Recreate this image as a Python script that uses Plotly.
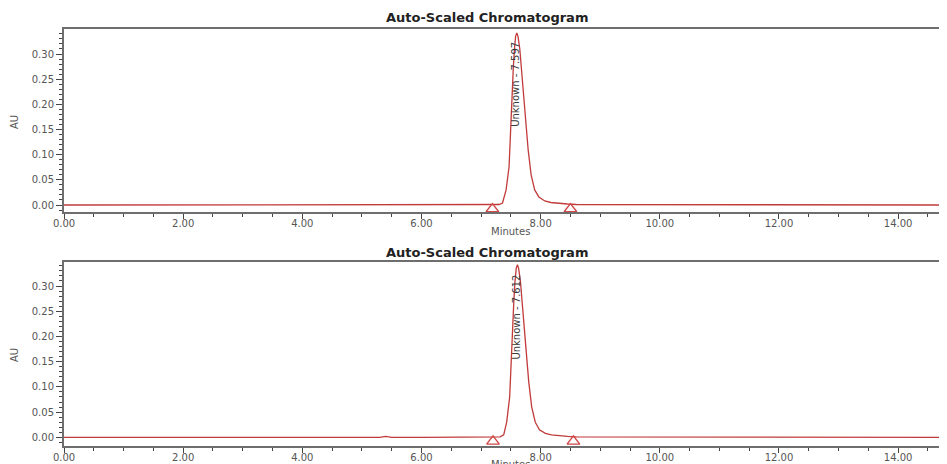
import plotly.graph_objects as go

# ---------------- data ----------------
time_top = [0.0, 1.0, 2.0, 3.0, 4.0, 5.0, 6.0, 7.0, 7.20, 7.30, 7.36, 7.42, 7.47, 7.49, 7.51,
            7.54, 7.56, 7.58, 7.60, 7.62, 7.65, 7.67, 7.70, 7.73, 7.76, 7.79, 7.84, 7.90,
            7.97, 8.07, 8.17, 8.30, 8.45, 8.60, 9.0, 9.3, 10.0, 11.0, 12.0, 13.0, 14.0, 14.9]
au_top = [0.000, 0.000, 0.000, 0.000, 0.000, 0.000, 0.000, 0.000, 0.000, 0.001, 0.004, 0.030,
          0.076, 0.140, 0.200, 0.270, 0.310, 0.335, 0.342, 0.335, 0.310, 0.280, 0.240, 0.200,
          0.150, 0.110, 0.060, 0.030, 0.016, 0.008, 0.005, 0.003, 0.002, 0.001, 0.001, 0.001,
          0.000, 0.000, 0.000, 0.000, 0.000, 0.000]

time_bottom = [0.0, 1.0, 2.0, 3.0, 4.0, 5.0, 5.3, 5.4, 5.5, 6.0, 7.0, 7.20, 7.32, 7.38, 7.43,
               7.48, 7.50, 7.52, 7.55, 7.57, 7.59, 7.61, 7.63, 7.66, 7.68, 7.71, 7.74, 7.77,
               7.80, 7.85, 7.91, 7.98, 8.08, 8.18, 8.30, 8.45, 8.60, 9.0, 10.0, 11.0, 12.0,
               13.0, 14.0, 14.9]
au_bottom = [0.000, 0.000, 0.000, 0.000, 0.000, 0.000, 0.000, 0.002, 0.000, 0.000, 0.000,
             0.000, 0.001, 0.005, 0.030, 0.080, 0.140, 0.200, 0.270, 0.310, 0.335, 0.342,
             0.335, 0.310, 0.280, 0.240, 0.200, 0.150, 0.110, 0.060, 0.030, 0.015, 0.008,
             0.005, 0.003, 0.002, 0.001, 0.001, 0.000, 0.000, 0.000, 0.000, 0.000, 0.000]

peak_top = {"rt": 7.58, "label_y": 0.240, "label": "Unknown - 7.597"}
peak_bottom = {"rt": 7.60, "label_y": 0.239, "label": "Unknown - 7.612"}

marks_top_t = [7.19, 8.50]
marks_top_y = [-0.008, -0.008]
marks_bottom_t = [7.20, 8.55]
marks_bottom_y = [-0.008, -0.008]

x_tickvals = [0, 2, 4, 6, 8, 10, 12, 14]
x_ticktext = ["0.00", "2.00", "4.00", "6.00", "8.00", "10.00", "12.00", "14.00"]
y_tickvals = [0.00, 0.05, 0.10, 0.15, 0.20, 0.25, 0.30]
y_ticktext = ["0.00", "0.05", "0.10", "0.15", "0.20", "0.25", "0.30"]

title_text = "Auto-Scaled Chromatogram"
x_title = "Minutes"
y_title = "AU"

# ---------------- styling ----------------
TRACE = "#c23b3b"
AXIS = "#6e6e6e"
TICKFONT = dict(family="DejaVu Sans", size=10, color="#555555")

# the page body adds an 8px offset, so figure pixels = screen pixels - 8
OFF = 8
W, H = 947 - OFF, 464 - OFF
L = 64 - OFF


def fy(px):
    return 1 - (px - OFF) / H


def fx(px):
    return (px - OFF - L) / (W - L)


fig = go.Figure()

fig.add_trace(go.Scatter(x=time_top, y=au_top, mode="lines",
                         line=dict(color=TRACE, width=1.3), xaxis="x", yaxis="y",
                         showlegend=False, hoverinfo="skip"))
fig.add_trace(go.Scatter(x=marks_top_t, y=marks_top_y, mode="markers",
                         marker=dict(symbol="triangle-up-open", size=11, color="#d04848",
                                     line=dict(width=1.4)),
                         xaxis="x", yaxis="y", showlegend=False, hoverinfo="skip"))
fig.add_trace(go.Scatter(x=time_bottom, y=au_bottom, mode="lines",
                         line=dict(color=TRACE, width=1.3), xaxis="x2", yaxis="y2",
                         showlegend=False, hoverinfo="skip"))
fig.add_trace(go.Scatter(x=marks_bottom_t, y=marks_bottom_y, mode="markers",
                         marker=dict(symbol="triangle-up-open", size=11, color="#d04848",
                                     line=dict(width=1.4)),
                         xaxis="x2", yaxis="y2", showlegend=False, hoverinfo="skip"))

top_dom = [fy(212), fy(29)]
bot_dom = [fy(446), fy(262)]


def xaxis(anchor):
    return dict(range=[0, 14.82], anchor=anchor, showgrid=False, zeroline=False,
                automargin=False,
                showline=True, linecolor=AXIS, linewidth=2, mirror=True,
                ticks="outside", ticklen=5, tickwidth=1, tickcolor="#444444",
                ticklabelstandoff=-4,
                tickvals=x_tickvals, ticktext=x_ticktext, tickfont=TICKFONT,
                minor=dict(dtick=0.5, tick0=0, ticks="outside", ticklen=3,
                           tickcolor="#444444", tickwidth=1))


def yaxis(anchor, dom, rng):
    return dict(domain=dom, range=rng, anchor=anchor, showgrid=False, zeroline=False,
                automargin=False,
                showline=True, linecolor=AXIS, linewidth=2,
                ticks="outside", ticklen=6, tickwidth=1, tickcolor="#444444",
                tickvals=y_tickvals, ticktext=y_ticktext, tickfont=TICKFONT,
                minor=dict(dtick=0.01, tick0=0, ticks="outside", ticklen=3,
                           tickcolor="#444444", tickwidth=1))


fig.update_layout(
    width=W, height=H,
    margin=dict(l=L, r=0, t=0, b=0, autoexpand=False),
    paper_bgcolor="white", plot_bgcolor="white",
    xaxis=xaxis("y"),
    yaxis=yaxis("x", top_dom, [-0.0139, 0.3497]),
    xaxis2=xaxis("y2"),
    yaxis2=yaxis("x2", bot_dom, [-0.0172, 0.3476]),
)

ann = []
for ytitle_px, yx_px, ylab_px in [(17, 231, 122), (252, 464, 355)]:
    ann.append(dict(text="<b>" + title_text + "</b>", xref="paper", yref="paper",
                    x=fx(487), y=fy(ytitle_px), showarrow=False,
                    xanchor="center", yanchor="middle",
                    font=dict(family="DejaVu Sans", size=13, color="#222222")))
    ann.append(dict(text=x_title, xref="paper", yref="paper",
                    x=fx(510), y=fy(yx_px), showarrow=False,
                    xanchor="center", yanchor="middle",
                    font=dict(family="DejaVu Sans", size=10, color="#555555")))
    ann.append(dict(text=y_title, xref="paper", yref="paper",
                    x=fx(14), y=fy(ylab_px), showarrow=False,
                    xanchor="center", yanchor="middle", textangle=-90,
                    font=dict(family="DejaVu Sans", size=10, color="#555555")))

for pk, xr, yr in [(peak_top, "x", "y"), (peak_bottom, "x2", "y2")]:
    ann.append(dict(text=pk["label"], xref=xr, yref=yr, x=pk["rt"], y=pk["label_y"],
                    showarrow=False, textangle=-90, xanchor="center", yanchor="middle",
                    font=dict(family="DejaVu Sans", size=10, color="#3a3a3a")))

fig.update_layout(annotations=ann)

fig.write_html("out.html")
